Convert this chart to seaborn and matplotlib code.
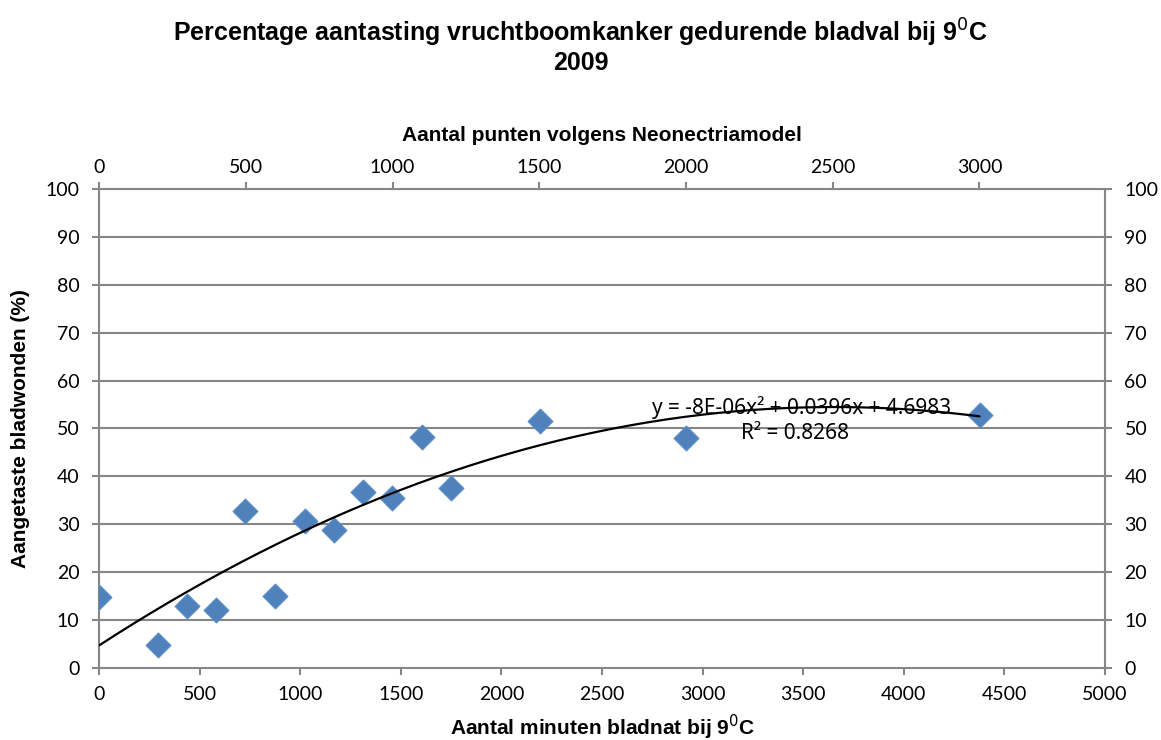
import numpy as np
import pandas as pd
import seaborn as sns
import matplotlib.pyplot as plt

sns.set_style('white')
plt.rcParams['font.family'] = ['Lato', 'DejaVu Sans']
plt.rcParams['text.color'] = 'black'
plt.rcParams['axes.labelcolor'] = 'black'

# minuten bladnat bij 9 graden, punten Neonectriamodel, aantasting (%)
minuten = [0, 293, 437, 582, 726, 875, 1024, 1168, 1312, 1456, 1605, 1750, 2192, 2917, 4379]
punten = [0, 200, 300, 400, 500, 600, 700, 800, 900, 1000, 1100, 1200, 1500, 2000, 3000]
aantasting = [14.8, 4.7, 13.0, 12.2, 32.8, 15.1, 30.7, 28.8, 36.7, 35.5, 48.2, 37.6, 51.6, 48.0, 52.8]

df = pd.DataFrame({'minuten': minuten, 'punten': punten, 'aantasting': aantasting})

grijs = '#868686'
blauw = '#4F81BD'
titel_font = ['Liberation Sans', 'DejaVu Sans']

fig = plt.figure(figsize=(11.61, 7.40), dpi=100)
ax = fig.add_axes([0.0853, 0.0973, 0.8665, 0.6473])

# grid
for v in range(10, 101, 10):
    ax.axhline(v, color=grijs, lw=1.5, zorder=0)

sns.scatterplot(data=df, x='minuten', y='aantasting', marker='D', s=160,
                color=blauw, edgecolor='#5B8CC6', linewidth=0.8, ax=ax, zorder=3)

ax.set_xlim(0, 5000)
ax.set_ylim(0, 100)
ax.set_xticks(range(0, 5001, 500))
ax.set_yticks(range(0, 101, 10))
ax.tick_params(axis='both', labelsize=14, colors=grijs, labelcolor='black',
               length=5, width=1.5, direction='out')
ax.tick_params(axis='y', right=True, labelright=True, left=True, pad=9)
ax.tick_params(axis='x', pad=8)
for s in ax.spines.values():
    s.set_color(grijs)
    s.set_linewidth(1.5)

ax.set_xlabel('Aantal minuten bladnat bij 9$^0$C', fontsize=15, fontweight='bold',
              family=titel_font, labelpad=7)
ax.set_ylabel('Aangetaste bladwonden (%)', fontsize=15, fontweight='bold',
              family=titel_font, labelpad=11)

# bovenste as: punten volgens model
verhouding = np.mean(np.array(minuten[1:]) / np.array(punten[1:]))
ax2 = ax.twiny()
ax2.set_xlim(0, 5000 / verhouding)
ax2.set_xticks(range(0, 3001, 500))
ax2.tick_params(axis='x', labelsize=14, colors=grijs, labelcolor='black',
                length=5, width=1.5, direction='out', pad=4)
for s in ax2.spines.values():
    s.set_visible(False)
ax2.set_xlabel('Aantal punten volgens Neonectriamodel', fontsize=15, fontweight='bold',
               family=titel_font, labelpad=13)

# polynomiale trendlijn (op de punten)
coef = np.polyfit(punten, aantasting, 2)
xs = np.linspace(0, max(punten), 200)
ax2.plot(xs, np.polyval(coef, xs), color='black', lw=1.6, zorder=4)

ax.text(3490, 54.3, 'y = -8E-06x² + 0.0396x + 4.6983', fontsize=15,
        ha='center', va='center', family=['Noto Sans', 'DejaVu Sans'], zorder=5)
ax.text(3460, 49.0, 'R² = 0.8268', fontsize=15,
        ha='center', va='center', family=['Noto Sans', 'DejaVu Sans'], zorder=5)

fig.text(0.5, 0.938, 'Percentage aantasting vruchtboomkanker gedurende bladval bij 9$^0$C\n2009',
         ha='center', va='center', fontsize=18, fontweight='bold', family=titel_font,
         linespacing=1.15)

fig.savefig('out.png', dpi=100)
